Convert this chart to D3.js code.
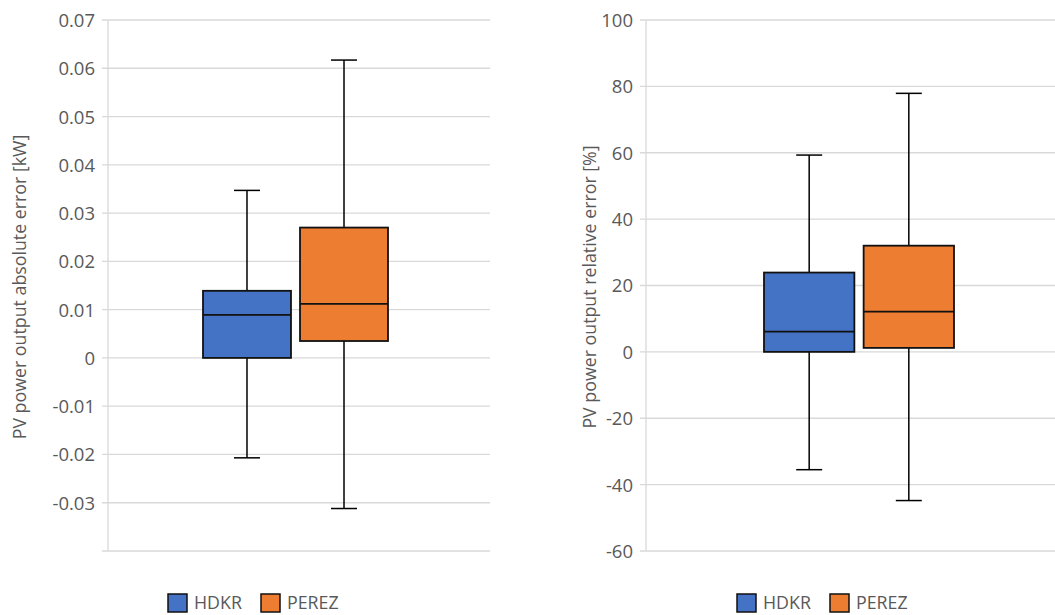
<!DOCTYPE html>
<html>
<head>
<meta charset="utf-8">
<script src="https://d3js.org/d3.v7.min.js"></script>
<style>
    body { margin: 0; background: #fff; }
    text { font-family: "Open Sans", sans-serif; fill: #595959; }
</style>
</head>
<body>
<div id="chart"></div>
<script>
// series names and colours
const series = ["HDKR", "PEREZ"];
const colors = ["#4472C4", "#ED7D31"];

// absolute error [kW]: min, q1, median, q3, max
const absMin = [-0.0207, -0.0312];
const absQ1 = [0.0, 0.0035];
const absMedian = [0.0089, 0.0112];
const absQ3 = [0.0139, 0.0270];
const absMax = [0.0347, 0.0617];
const absTicks = [-0.03, -0.02, -0.01, 0, 0.01, 0.02, 0.03, 0.04, 0.05, 0.06, 0.07];

// relative error [%]
const relMin = [-35.5, -44.8];
const relQ1 = [0.0, 1.2];
const relMedian = [6.1, 12.1];
const relQ3 = [23.9, 32.0];
const relMax = [59.3, 77.9];
const relTicks = [-60, -40, -20, 0, 20, 40, 60, 80, 100];

const W = 1055, H = 615;
const FONT = 18.5;
const svg = d3.select("#chart").append("svg")
    .attr("width", W)
    .attr("height", H);

function drawPanel(p) {
    const g = svg.append("g");
    const y = d3.scaleLinear().domain(p.domain).range([551, 20]);
    const x = d3.scaleBand().domain(series).range(p.boxRange).paddingInner(0.093);

    // gridlines
    g.selectAll(".grid")
        .data(p.gridVals)
        .enter().append("line")
        .attr("x1", p.axisX - 6)
        .attr("x2", p.right)
        .attr("y1", d => y(d))
        .attr("y2", d => y(d))
        .attr("stroke", "#D9D9D9")
        .attr("stroke-width", 1.3);

    g.append("line")
        .attr("x1", p.axisX).attr("x2", p.axisX)
        .attr("y1", y(p.domain[1])).attr("y2", y(p.domain[0]))
        .attr("stroke", "#D9D9D9")
        .attr("stroke-width", 1.3);

    // tick labels
    const axis = d3.axisLeft(y).tickValues(p.ticks).tickFormat(p.fmt).tickSize(0).tickPadding(0);
    const ax = g.append("g")
        .attr("transform", "translate(" + (p.axisX - 13) + ",0)")
        .call(axis);
    ax.select(".domain").remove();
    ax.selectAll("text")
        .attr("font-size", FONT)
        .attr("dy", "0.35em")
        .attr("font-family", "'Open Sans', sans-serif")
        .attr("fill", "#595959");

    // y title
    g.append("text")
        .attr("transform", "translate(" + p.titleX + "," + 287 + ") rotate(-90)")
        .attr("text-anchor", "middle")
        .attr("dy", "0.35em")
        .attr("font-size", 17.8)
        .text(p.title);

    const cap = 13;
    series.forEach(function (s, i) {
        const cx = x(s) + x.bandwidth() / 2;
        // whiskers
        g.append("line")
            .attr("x1", cx).attr("x2", cx)
            .attr("y1", y(p.max[i])).attr("y2", y(p.q3[i]))
            .attr("stroke", "#000").attr("stroke-width", 1.5);
        g.append("line")
            .attr("x1", cx).attr("x2", cx)
            .attr("y1", y(p.q1[i])).attr("y2", y(p.min[i]))
            .attr("stroke", "#000").attr("stroke-width", 1.5);
        [p.max[i], p.min[i]].forEach(function (v) {
            g.append("line")
                .attr("x1", cx - cap).attr("x2", cx + cap)
                .attr("y1", y(v)).attr("y2", y(v))
                .attr("stroke", "#000").attr("stroke-width", 1.5);
        });
        // box
        g.append("rect")
            .attr("x", x(s))
            .attr("y", y(p.q3[i]))
            .attr("width", x.bandwidth())
            .attr("height", y(p.q1[i]) - y(p.q3[i]))
            .attr("fill", colors[i])
            .attr("stroke", "#111")
            .attr("stroke-width", 1.8);
        g.append("line")
            .attr("x1", x(s)).attr("x2", x(s) + x.bandwidth())
            .attr("y1", y(p.median[i])).attr("y2", y(p.median[i]))
            .attr("stroke", "#111").attr("stroke-width", 1.8);
    });

    // legend
    const leg = g.append("g").attr("transform", "translate(" + p.legendX + ",594)");
    const items = [0, 93];
    series.forEach(function (s, i) {
        leg.append("rect")
            .attr("x", items[i]).attr("y", 0)
            .attr("width", 19).attr("height", 18)
            .attr("fill", colors[i])
            .attr("stroke", "#111")
            .attr("stroke-width", 1.5);
        leg.append("text")
            .attr("x", items[i] + 26)
            .attr("y", 9)
            .attr("dy", "0.36em")
            .attr("font-size", 17.8)
            .text(s);
    });
}

drawPanel({
    domain: [-0.04, 0.07],
    ticks: absTicks,
    gridVals: [-0.04].concat(absTicks),
    fmt: d => d === 0 ? "0" : d3.format(".2f")(d).replace("\u2212", "-"),
    axisX: 108,
    right: 490,
    boxRange: [203, 388],
    titleX: 20,
    title: "PV power output absolute error [kW]",
    min: absMin, q1: absQ1, median: absMedian, q3: absQ3, max: absMax,
    legendX: 168
});

drawPanel({
    domain: [-60, 100],
    ticks: relTicks,
    gridVals: relTicks,
    fmt: d => String(d),
    axisX: 646,
    right: 1055,
    boxRange: [764, 954],
    titleX: 590,
    title: "PV power output relative error [%]",
    min: relMin, q1: relQ1, median: relMedian, q3: relQ3, max: relMax,
    legendX: 737
});
</script>
</body>
</html>
